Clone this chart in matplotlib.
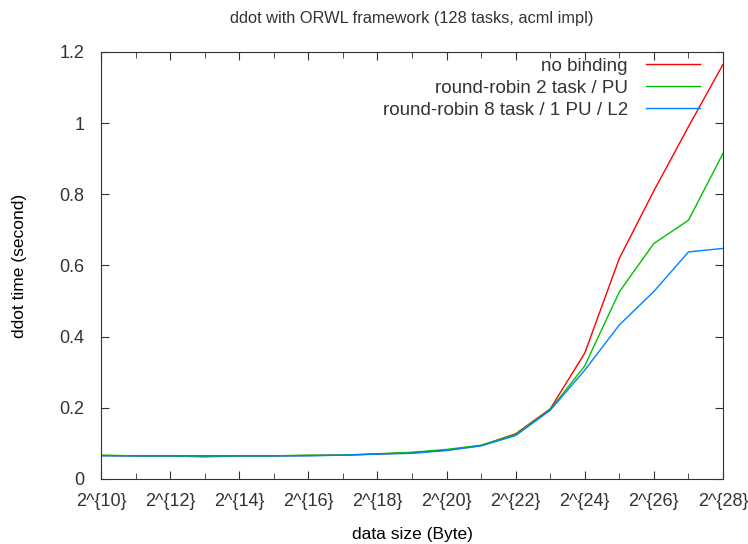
import matplotlib
matplotlib.use("Agg")
import matplotlib.pyplot as plt
from matplotlib.ticker import FixedLocator

plt.rcParams['font.family'] = ['Liberation Sans', 'DejaVu Sans']
plt.rcParams['text.color'] = '#333333'

exponents = list(range(10, 29))
no_binding = [0.066, 0.065, 0.065, 0.065, 0.065, 0.065, 0.066, 0.067, 0.070, 0.074,
              0.081, 0.094, 0.127, 0.197, 0.354, 0.620, 0.810, 0.990, 1.165]
rr_2task = [0.067, 0.065, 0.065, 0.062, 0.065, 0.065, 0.067, 0.067, 0.071, 0.075,
            0.083, 0.095, 0.125, 0.195, 0.318, 0.526, 0.662, 0.727, 0.915]
rr_8task = [0.065, 0.065, 0.065, 0.065, 0.065, 0.065, 0.065, 0.067, 0.070, 0.072,
            0.080, 0.093, 0.122, 0.193, 0.306, 0.433, 0.527, 0.638, 0.648]

xtick_labels = ["2^{%d}" % e for e in range(10, 29, 2)]
ytick_vals = [0, 0.2, 0.4, 0.6, 0.8, 1, 1.2]
ytick_labels = ["0", "0.2", "0.4", "0.6", "0.8", "1", "1.2"]

fig = plt.figure(figsize=(7.48, 5.44), dpi=100)
ax = fig.add_axes([0.135, 0.1195, 0.8316, 0.785])

ax.plot(exponents, no_binding, color="#ff0000", lw=1, label="no binding")
ax.plot(exponents, rr_2task, color="#00c000", lw=1, label="round-robin 2 task / PU")
ax.plot(exponents, rr_8task, color="#0080ff", lw=1, label="round-robin 8 task / 1 PU / L2")

ax.set_xlim(10, 28)
ax.set_ylim(0, 1.2)
ax.set_xticks(range(10, 29, 2))
ax.set_xticklabels(xtick_labels)
ax.xaxis.set_minor_locator(FixedLocator(range(11, 28, 2)))
ax.set_yticks(ytick_vals)
ax.set_yticklabels(ytick_labels)
ax.tick_params(which="both", direction="in", top=True, right=True,
               labelsize=13, color="#333333", labelcolor="#333333")
ax.tick_params(axis="x", pad=10)
ax.tick_params(axis="y", pad=12)
ax.tick_params(which="major", length=6)
ax.tick_params(which="minor", length=4)
for s in ax.spines.values():
    s.set_color("#333333")

ax.set_title("ddot with ORWL framework (128 tasks, acml impl)", fontsize=11.8, pad=21)
ax.set_xlabel("data size (Byte)", fontsize=12.5)
ax.set_ylabel("ddot time (second)", fontsize=12.5)
ax.xaxis.set_label_coords(0.5, -0.112)
ax.yaxis.set_label_coords(-0.119, 0.5)

ax.legend(loc="upper right", bbox_to_anchor=(0.963, 0.986), frameon=False,
          markerfirst=False, fontsize=13.5, handlelength=2.9, labelspacing=0.25,
          borderaxespad=0, borderpad=0, handletextpad=0.95)

fig.savefig("out.png", dpi=100)
